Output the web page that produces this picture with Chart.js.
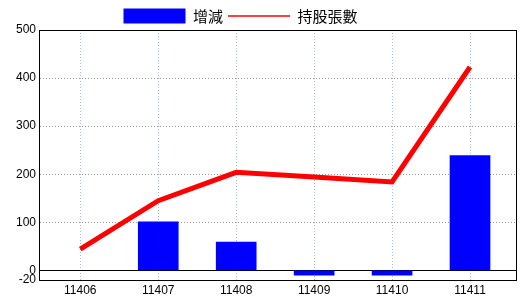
<!DOCTYPE html>
<html>
<head>
<meta charset="utf-8">
<script src="https://cdn.jsdelivr.net/npm/chart.js@4/dist/chart.umd.min.js"></script>
<style>
  html, body { margin: 0; padding: 0; background: #fff; }
  #wrap { width: 520px; height: 300px; }
</style>
</head>
<body>
<div id="wrap"><canvas id="chart"></canvas></div>
<script>
// Data
const months = ['11406', '11407', '11408', '11409', '11410', '11411'];
const changes = [null, 101, 59, -10, -10, 239];      // 增減
const holdings = [44, 145, 204, 194, 184, 423];      // 持股張數
const yTicks = [-20, 0, 100, 200, 300, 400, 500];

const tickFont = { family: '"Liberation Sans Narrow", "Liberation Sans", Arial, sans-serif', size: 12 };

// Black for the frame/zero line, dotted gray for the rest
function yGridColor(ctx) {
    if (!ctx.tick) return '#000';
    const v = ctx.tick.value;
    if (v === -20) return 'rgba(0,0,0,0)';
    if (v === 0 || v === 500) return '#000';
    return '#999';
}

function yGridDash(ctx) {
    if (ctx.tick && (ctx.tick.value === 0 || ctx.tick.value === 500)) return [];
    return [1, 2];
}

// The reference legend sits a little left of centre and lower
const LEGEND_DX = -18;
const LEGEND_DY = 3.5;
const legendShift = {
    id: 'legendShift',
    beforeDraw(chart) {
        const lg = chart.legend;
        if (!lg) return;
        lg.left += LEGEND_DX;
        lg.right += LEGEND_DX;
        lg.top += LEGEND_DY;
        lg.bottom += LEGEND_DY;
    },
    afterDraw(chart) {
        const lg = chart.legend;
        if (!lg) return;
        lg.left -= LEGEND_DX;
        lg.right -= LEGEND_DX;
        lg.top -= LEGEND_DY;
        lg.bottom -= LEGEND_DY;
    },
};

const toXY = arr => arr.map((y, i) => ({ x: i, y }));

new Chart(document.getElementById('chart'), {
    data: {
        datasets: [
            {
                type: 'line',
                label: '持股張數',
                data: toXY(holdings),
                borderColor: '#ff0000',
                backgroundColor: '#ff0000',
                borderWidth: 5,
                pointRadius: 0,
                tension: 0,
                order: 0,
            },
            {
                type: 'bar',
                label: '增減',
                data: toXY(changes),
                backgroundColor: '#0000ff',
                borderWidth: 0,
                barThickness: 40,
                order: 1,
            },
        ],
    },
    plugins: [legendShift],
    options: {
        responsive: true,
        maintainAspectRatio: false,
        animation: false,
        layout: { padding: { right: 3 } },
        plugins: {
            legend: {
                position: 'top',
                reverse: true,
                labels: {
                    font: { family: '"Noto Sans CJK TC", sans-serif', size: 15 },
                    color: '#000',
                    usePointStyle: true,
                    pointStyleWidth: 62,
                    boxHeight: 15,
                    padding: 5,
                    generateLabels(chart) {
                        const items = Chart.defaults.plugins.legend.labels.generateLabels(chart);
                        items.forEach(it => {
                            const ds = chart.data.datasets[it.datasetIndex];
                            if (ds.type === 'line') {
                                it.pointStyle = 'line';
                                it.lineWidth = 1.5;
                                it.strokeStyle = '#ff0000';
                                it.fillStyle = '#ff0000';
                            } else {
                                it.pointStyle = 'rect';
                                it.lineWidth = 0;
                            }
                        });
                        return items;
                    },
                },
            },
            tooltip: { enabled: false },
        },
        scales: {
            x: {
                type: 'linear',
                min: -0.53,
                max: 5.59,
                offset: false,
                afterBuildTicks(scale) {
                    scale.ticks = months.map((m, i) => ({ value: i }));
                },
                grid: {
                    offset: false,
                    color: '#9fc0d8',
                    drawTicks: false,
                },
                border: { color: '#000', width: 1, dash: [1, 2] },
                ticks: {
                    font: tickFont,
                    color: '#000',
                    padding: 3,
                    maxRotation: 0,
                    callback: v => months[v],
                },
                afterFit(scale) { scale.height = 20; },
            },
            y: {
                type: 'linear',
                min: -20,
                max: 500,
                afterBuildTicks(scale) {
                    scale.ticks = yTicks.map(v => ({ value: v }));
                },
                grid: {
                    color: yGridColor,
                    drawTicks: false,
                },
                border: { color: '#000', width: 1, dash: yGridDash },
                ticks: { font: tickFont, color: '#000', padding: 3 },
                afterFit(scale) { scale.width = 39; },
            },
            y2: {
                type: 'linear',
                position: 'right',
                min: -20,
                max: 500,
                grid: { drawOnChartArea: false, drawTicks: false },
                border: { color: '#000', width: 1 },
                ticks: { display: false },
                afterFit(scale) { scale.width = 1; },
            },
        },
    },
});
</script>
</body>
</html>
